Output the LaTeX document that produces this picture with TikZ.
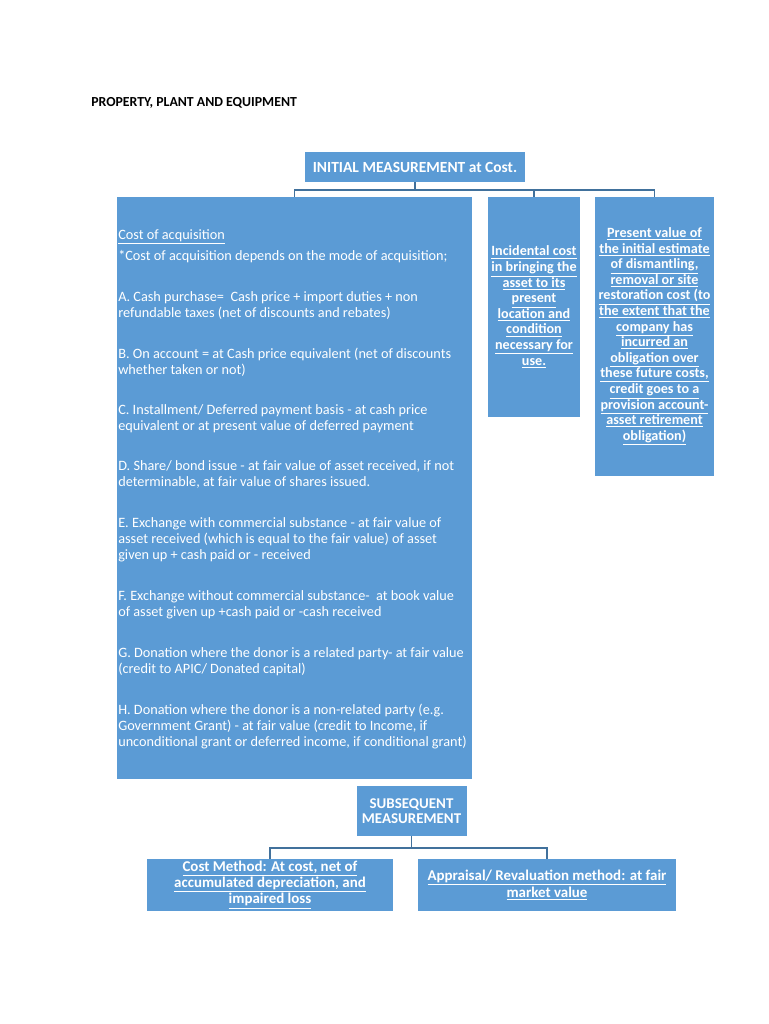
\documentclass[tikz,border=0pt]{standalone}
\usepackage{fontspec}
\setmainfont{Carlito}
\definecolor{boxblue}{HTML}{5B9BD5}
\definecolor{connblue}{HTML}{41719C}
\begin{document}
\begin{tikzpicture}[x=0.75pt,y=-0.75pt,
  box/.style={rectangle,fill=boxblue,draw=none,inner sep=0pt,text=white,align=center,font=\fontsize{10.6}{11.7}\selectfont\bfseries},
  lowbox/.style={box,font=\fontsize{11.2}{11.6}\selectfont\bfseries},
  para/.style={anchor=base west,inner sep=0pt,text=white,font=\fontsize{10.7}{12}\selectfont},
  conn/.style={draw=connblue,line width=1.1pt}]
\useasboundingbox[fill=white] (0,0) rectangle (768,1024);
% title
\node[anchor=base west,inner sep=0pt,font=\fontsize{10.35}{12}\selectfont\bfseries] (title) at (91,106) {PROPERTY, PLANT AND EQUIPMENT};
% boxes
\node[box,minimum width=165pt,minimum height=22.5pt,font=\fontsize{11.6}{12}\selectfont\bfseries] (top) at (415,167) {INITIAL MEASUREMENT at Cost.};
\node[box,minimum width=266.25pt,minimum height=436.5pt] (left) at (294.5,488) {};
\node[box,minimum width=69pt,minimum height=165pt] (mid) at (534,307) {\underline{Incidental cost}\\\underline{in bringing the}\\\underline{asset to its}\\\underline{present}\\\underline{location and}\\\underline{condition}\\\underline{necessary for}\\\underline{use.}};
\node[box,minimum width=89.25pt,minimum height=209.25pt] (right) at (654.5,336.5) {\underline{Present value of}\\\underline{the initial estimate}\\\underline{of dismantling,}\\\underline{removal or site}\\\underline{restoration cost (to}\\\underline{the extent that the}\\\underline{company has}\\\underline{incurred an}\\\underline{obligation over}\\\underline{these future costs,}\\\underline{credit goes to a}\\\underline{provision account-}\\\underline{asset retirement}\\\underline{obligation)}};
\node[lowbox,minimum width=82.5pt,minimum height=37.5pt] (sub) at (411.5,811) {SUBSEQUENT\\MEASUREMENT};
\node[lowbox,minimum width=184.5pt,minimum height=39pt] (cost) at (270,885) {\underline{Cost Method: At cost, net of}\\\underline{accumulated depreciation, and}\\\underline{impaired loss}};
\node[lowbox,minimum width=193.5pt,minimum height=39pt] (appr) at (547,885) {\underline{Appraisal/ Revaluation method: at fair}\\\underline{market value}};
% left box text
\node[para] (p0) at (118,239) {\underline{Cost of acquisition}};
\node[para] (p1) at (118,260) {*Cost of acquisition depends on the mode of acquisition;};
\node[para] (pA) at (118,301) {\begin{tabular}[t]{@{}l@{}}A. Cash purchase=\ \ Cash price + import duties + non\\refundable taxes (net of discounts and rebates)\end{tabular}};
\node[para] (pB) at (118,358) {\begin{tabular}[t]{@{}l@{}}B. On account = at Cash price equivalent (net of discounts\\whether taken or not)\end{tabular}};
\node[para] (pC) at (118,414) {\begin{tabular}[t]{@{}l@{}}C. Installment/ Deferred payment basis - at cash price\\equivalent or at present value of deferred payment\end{tabular}};
\node[para] (pD) at (118,470) {\begin{tabular}[t]{@{}l@{}}D. Share/ bond issue - at fair value of asset received, if not\\determinable, at fair value of shares issued.\end{tabular}};
\node[para] (pE) at (118,527) {\begin{tabular}[t]{@{}l@{}}E. Exchange with commercial substance - at fair value of\\asset received (which is equal to the fair value) of asset\\given up + cash paid or - received\end{tabular}};
\node[para] (pF) at (118,600) {\begin{tabular}[t]{@{}l@{}}F. Exchange without commercial substance-\ \ at book value\\of asset given up +cash paid or -cash received\end{tabular}};
\node[para] (pG) at (118,657) {\begin{tabular}[t]{@{}l@{}}G. Donation where the donor is a related party- at fair value\\(credit to APIC/ Donated capital)\end{tabular}};
\node[para] (pH) at (118,714) {\begin{tabular}[t]{@{}l@{}}H. Donation where the donor is a non-related party (e.g.\\Government Grant) - at fair value (credit to Income, if\\unconditional grant or deferred income, if conditional grant)\end{tabular}};
% connectors
\coordinate (j1) at (415,190);
\coordinate (j2) at (411.5,848);
\draw[conn] (top.south) -- (j1);
\draw[conn] (left.north) |- (j1) -| (right.north);
\draw[conn] (mid.north) -- (mid.north |- j1);
\draw[conn] (sub.south) -- (j2);
\draw[conn] (cost.north) |- (j2) -| (appr.north);
\end{tikzpicture}
\end{document}
